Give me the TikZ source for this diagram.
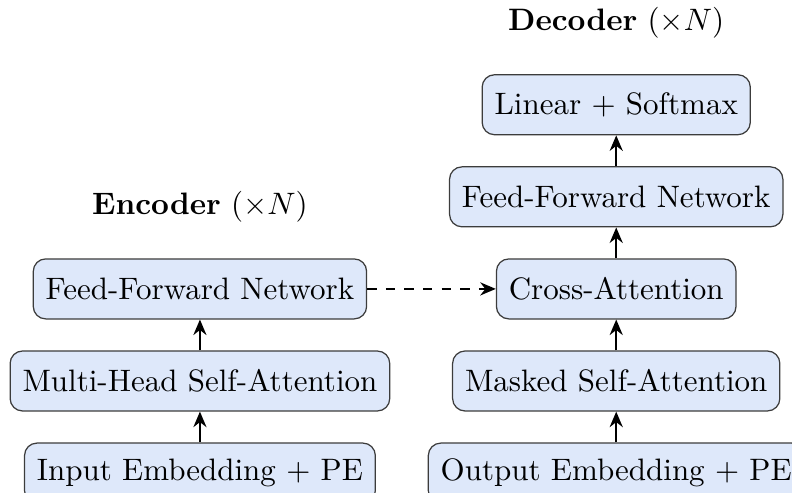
\documentclass[tikz,border=0pt]{standalone}
\usepackage{tikz}
\usetikzlibrary{positioning, arrows.meta}

\definecolor{boxfill}{RGB}{222,232,250}
\definecolor{boxline}{RGB}{60,60,60}

\begin{document}
\begin{tikzpicture}[
    node distance=0.35cm,
    mynode/.style={rectangle, rounded corners=4pt, draw=boxline, fill=boxfill,
        minimum height=0.68cm, inner xsep=4pt, align=center},
    mytitle/.style={align=center},
    myarrow/.style={-{Stealth[length=5pt, width=4.2pt]}, thick}]

    \useasboundingbox (-64.5pt,-65.8pt) rectangle (191pt,93.2pt);
    \clip (-64.5pt,-65.8pt) rectangle (191pt,93.2pt);

    % encoder stack
    \node[mynode] (encffn) at (0,0) {Feed-Forward Network};
    \node[mynode, below=of encffn] (selfattn) {Multi-Head Self-Attention};
    \node[mynode, below=of selfattn] (inembed) {Input Embedding + PE};
    \node[mytitle, above=0.28cm of encffn] (enctitle) {\textbf{Encoder} ($\times N$)};

    \draw[myarrow] (inembed) -- (selfattn);
    \draw[myarrow] (selfattn) -- (encffn);

    % decoder stack
    \node[mynode] (crossattn) at (4.72,0) {Cross-Attention};
    \node[mynode, below=of crossattn] (maskattn) {Masked Self-Attention};
    \node[mynode, below=of maskattn] (outembed) {Output Embedding + PE};
    \node[mynode, above=of crossattn] (decffn) {Feed-Forward Network};
    \node[mynode, above=of decffn] (linear) {Linear + Softmax};
    \node[mytitle, above=0.28cm of linear] (dectitle) {\textbf{Decoder} ($\times N$)};

    \draw[myarrow] (outembed) -- (maskattn);
    \draw[myarrow] (maskattn) -- (crossattn);
    \draw[myarrow] (crossattn) -- (decffn);
    \draw[myarrow] (decffn) -- (linear);

    \draw[myarrow, dashed] (encffn) -- (crossattn);

\end{tikzpicture}
\end{document}
